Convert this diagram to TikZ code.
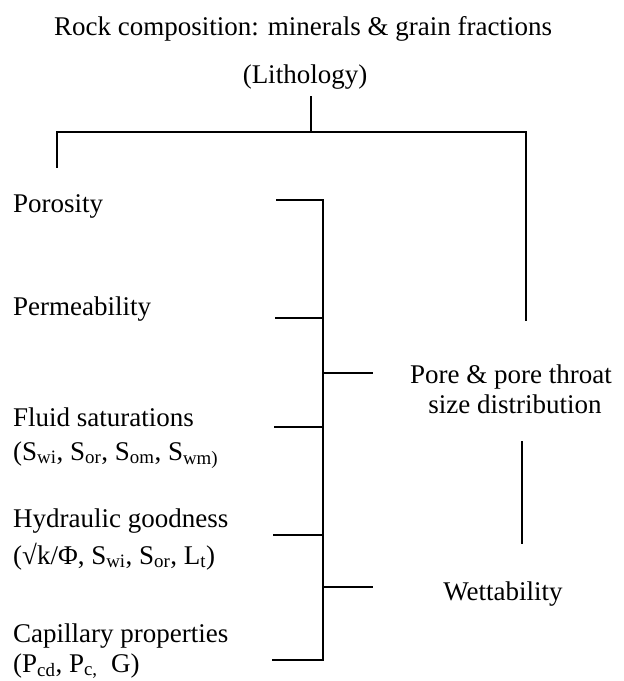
\documentclass[tikz,border=0pt]{standalone}
\usepackage{fontspec}
\setmainfont{Liberation Serif}
\usepackage{tikz}
\usetikzlibrary{positioning}
\tikzstyle{leftnode}=[black, shape=rectangle, inner sep=0pt, anchor=base west, font=\fontsize{27}{30}\selectfont]
\tikzstyle{midnode}=[black, shape=rectangle, inner sep=0pt, anchor=base, font=\fontsize{27}{30}\selectfont]
\tikzstyle{treeline}=[draw=black, line width=2.2pt, line cap=rect]

\begin{document}
\begin{tikzpicture}[x=1pt, y=-1pt]
\useasboundingbox (0,0) rectangle (624,681);

\node [midnode] (rock) at (303,35) {Rock composition: minerals \& grain fractions};
\node [midnode] (litho) at (305,83) {(Lithology)};

\node [leftnode] (poro) at (13,212) {Porosity};
\node [leftnode] (perm) at (13,315) {Permeability};
\node [leftnode] (fluid) at (13,426) {Fluid saturations};
\node [leftnode] (fluidsub) at (13,460) {(S\textsubscript{wi}, S\textsubscript{or}, S\textsubscript{om}, S\textsubscript{wm)}};
\node [leftnode] (hydr) at (13,527) {Hydraulic goodness};
\node [leftnode] (hydrsub) at (13,564) {(√k/Φ, S\textsubscript{wi}, S\textsubscript{or}, L\textsubscript{t})};
\node [leftnode] (capil) at (13,642) {Capillary properties};
\node [leftnode] (capilsub) at (13,672) {(P\textsubscript{cd}, P\textsubscript{c,}~~G)};

\node [midnode] (pore) at (511,383) {Pore \& pore throat};
\node [midnode] (poresize) at (515,413) {size distribution};
\node [midnode] (wett) at (503,600) {Wettability};

% top tree
\coordinate (lithofoot) at (311,97);
\coordinate (split) at (311,132);
\coordinate (leftend) at (57,132);
\coordinate (leftfoot) at (57,167);
\coordinate (rightend) at (526,132);
\coordinate (rightfoot) at (526,320);

% bracket
\coordinate (tick0) at (277,200);
\coordinate (tick1) at (276,318);
\coordinate (tick2) at (275,427);
\coordinate (tick3) at (274,535);
\coordinate (tick4) at (273,660);
\coordinate (brk0) at (323,200);
\coordinate (brk1) at (323,318);
\coordinate (brk2) at (323,427);
\coordinate (brk3) at (323,535);
\coordinate (brk4) at (323,660);
\coordinate (poreout) at (323,373);
\coordinate (poreend) at (372,373);
\coordinate (wettout) at (323,587);
\coordinate (wettend) at (372,587);
\coordinate (poretop) at (522,442);
\coordinate (porebot) at (522,543);

\draw [treeline] (lithofoot) -- (split);
\draw [treeline] (leftfoot) -- (leftend) -- (rightend) -- (rightfoot);
\draw [treeline] (tick0) -- (brk0) -- (brk4) -- (tick4);
\draw [treeline] (tick1) -- (brk1);
\draw [treeline] (tick2) -- (brk2);
\draw [treeline] (tick3) -- (brk3);
\draw [treeline] (poreout) -- (poreend);
\draw [treeline] (wettout) -- (wettend);
\draw [treeline] (poretop) -- (porebot);
\end{tikzpicture}
\end{document}
